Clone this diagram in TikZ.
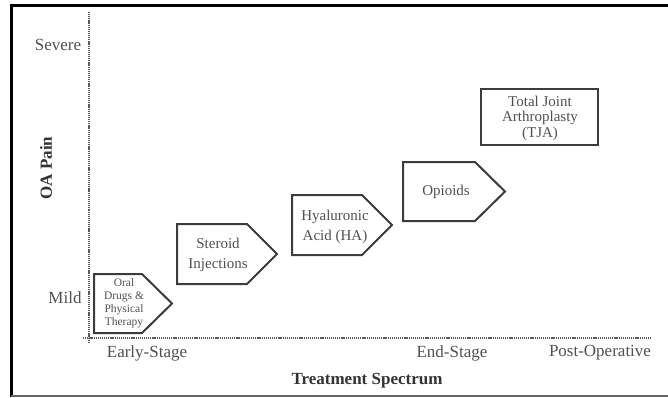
\documentclass[tikz,border=0pt]{standalone}
\usepackage{fontspec}
\setmainfont{Liberation Serif}
\definecolor{labgray}{HTML}{505050}
\definecolor{boxgray}{HTML}{3C3C3C}
\definecolor{axisgray}{HTML}{5A5A5A}
\begin{document}
\begin{tikzpicture}[x=1pt,y=-1pt,
  lbl/.style={text=labgray, inner sep=0pt, font=\fontsize{17}{20}\selectfont},
  boldlbl/.style={text=black!80, inner sep=0pt, font=\fontsize{17}{20}\selectfont\bfseries},
  boxtxt/.style={text=labgray, inner sep=0pt, align=center, font=\fontsize{15}{20}\selectfont},
  boxline/.style={draw=boxgray, line width=2pt, line join=miter},
  axisline/.style={draw=axisgray, line width=1.4pt, dash pattern=on 1.2pt off 0.9pt},
]
\useasboundingbox (0,0) rectangle (668,398);
% frame
\draw[black, line width=3pt] (11,397) -- (11,6) -- (668,6);
\draw[black!60, line width=2pt] (11,396) -- (668,396);
% axes
\coordinate (ytop) at (89,12);
\coordinate (ybot) at (89,342);
\coordinate (xleft) at (83,338);
\coordinate (xright) at (652,338);
\draw[axisline] (ytop) -- (ybot);
\draw[axisline] (xleft) -- (xright);
% shapes
\draw[boxline] (94,274) -- (142,274) -- (172,303.5) -- (142,333) -- (94,333) -- cycle;
\draw[boxline] (177,224) -- (247,224) -- (277,254) -- (247,284) -- (177,284) -- cycle;
\draw[boxline] (292,195) -- (362,195) -- (392,225) -- (362,255) -- (292,255) -- cycle;
\draw[boxline] (403,162) -- (475,162) -- (505,191.5) -- (475,221) -- (403,221) -- cycle;
\draw[boxline] (481,89) rectangle (598,145);
% box texts
\node[boxtxt, font=\fontsize{11.5}{13}\selectfont] (oral) at (124,303.5) {Oral\\Drugs \&\\Physical\\Therapy};
\node[boxtxt] (steroid) at (218,255) {Steroid\\Injections};
\node[boxtxt] (ha) at (335,227) {Hyaluronic\\Acid (HA)};
\node[boxtxt] (opioids) at (446,192) {Opioids};
\node[boxtxt, font=\fontsize{15}{15.5}\selectfont] (tja) at (540,118) {Total Joint\\Arthroplasty\\(TJA)};
% axis labels
\node[lbl] (severe) at (58,45) {Severe};
\node[lbl] (mild) at (65,298) {Mild};
\node[boldlbl, rotate=90] (oapain) at (46,168) {OA Pain};
\node[lbl] (early) at (147,353) {Early-Stage};
\node[lbl] (endst) at (452,353) {End-Stage};
\node[lbl] (postop) at (600,353) {Post-Operative};
\node[boldlbl] (spectrum) at (367,381) {Treatment Spectrum};
\end{tikzpicture}
\end{document}
